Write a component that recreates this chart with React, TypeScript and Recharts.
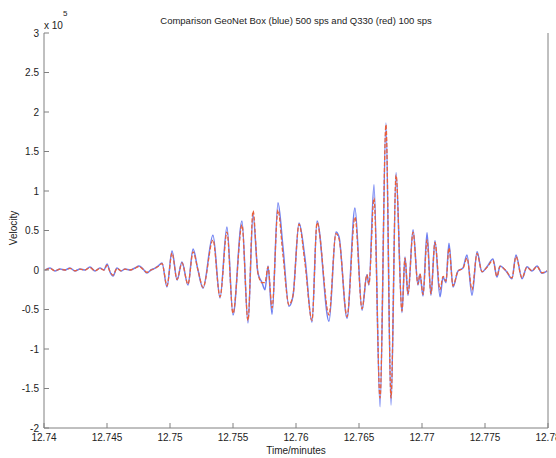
import React from 'react'
import { LineChart, Line, XAxis, YAxis } from 'recharts'

// time in minutes, velocity in units of 1e5
const times = [
  12.7401, 12.74048, 12.74087, 12.74127, 12.74167, 12.74206, 12.74246, 12.74286, 12.74325, 12.74365,
  12.74405, 12.74444, 12.74476, 12.745, 12.74524, 12.74548, 12.74579, 12.74611, 12.74643, 12.74683,
  12.74722, 12.74754, 12.74786, 12.74817, 12.74849, 12.74881, 12.74905, 12.74937, 12.74976, 12.75016,
  12.75056, 12.75095, 12.75143, 12.75183, 12.75222, 12.75262, 12.75341, 12.75397, 12.75452, 12.755,
  12.75571, 12.75619, 12.75659, 12.75698, 12.7573, 12.75754, 12.75778, 12.7581, 12.75857, 12.75897,
  12.75944, 12.75976, 12.76024, 12.76071, 12.76127, 12.76167, 12.76262, 12.76317, 12.76341, 12.76405,
  12.76468, 12.76524, 12.76563, 12.76579, 12.76619, 12.76667, 12.76714, 12.76754, 12.76794, 12.76841,
  12.76865, 12.76889, 12.76929, 12.76968, 12.76984, 12.77008, 12.7704, 12.77071, 12.77103, 12.77143,
  12.77167, 12.7719, 12.77214, 12.77246, 12.77286, 12.77325, 12.77357, 12.77397, 12.77437, 12.77476,
  12.77516, 12.77563, 12.77595, 12.77619, 12.77667, 12.77714, 12.77746, 12.77794, 12.77833, 12.77873,
  12.77913, 12.77952, 12.77992,
]

const geoNetBox = [
  0, 0.025, -0.013, 0.013, 0, 0.025, -0.013, 0.013, 0, 0.038,
  -0.013, 0.025, 0, 0.076, -0.025, -0.076, 0.025, -0.013, 0.013, 0,
  0.025, 0.05, 0.013, -0.038, 0, 0.025, 0.05, 0.09, -0.215, 0.24,
  -0.127, 0.1, -0.19, 0.266, 0, -0.23, 0.44, -0.354, 0.544, -0.57,
  0.62, -0.67, 0.7, -0.04, -0.16, -0.25, 0.05, -0.56, 0.85, 0.28,
  -0.46, -0.33, 0.595, 0.15, -0.66, 0.62, -0.65, 0.48, 0.42, -0.61,
  0.785, -0.51, -0.06, -0.19, 1.08, -1.73, 1.86, -1.71, 1.23, -0.54,
  0.165, -0.32, 0.51, -0.19, -0.05, -0.33, 0.47, -0.32, 0.37, -0.34,
  -0.09, -0.16, 0.34, -0.215, -0.013, 0.025, 0.19, -0.32, 0.23, -0.025,
  0.04, 0.14, -0.09, 0.05, -0.013, -0.11, 0.19, -0.11, 0.04, -0.013,
  0.05, -0.04, -0.013,
]

const q330 = [
  0, 0.02, -0.01, 0.01, 0, 0.02, -0.01, 0.01, 0, 0.03,
  -0.01, 0.02, 0, 0.06, -0.02, -0.065, 0.02, -0.01, 0.01, 0,
  0.02, 0.045, 0.01, -0.03, 0, 0.02, 0.045, 0.08, -0.2, 0.215,
  -0.12, 0.09, -0.18, 0.23, 0, -0.22, 0.38, -0.34, 0.48, -0.55,
  0.57, -0.64, 0.75, -0.04, -0.16, -0.16, 0.04, -0.48, 0.76, 0.18,
  -0.44, -0.32, 0.58, 0.09, -0.64, 0.6, -0.57, 0.46, 0.4, -0.59,
  0.67, -0.49, -0.06, -0.18, 0.91, -1.62, 1.84, -1.62, 1.2, -0.52,
  0.15, -0.3, 0.48, -0.18, -0.05, -0.31, 0.38, -0.3, 0.35, -0.25,
  -0.08, -0.14, 0.28, -0.2, -0.013, 0.02, 0.15, -0.25, 0.21, -0.02,
  0.035, 0.12, -0.08, 0.045, -0.01, -0.1, 0.17, -0.1, 0.035, -0.01,
  0.045, -0.035, -0.01,
]

const xTicks = [12.74, 12.745, 12.75, 12.755, 12.76, 12.765, 12.77, 12.775, 12.78]
const yTicks = [-2, -1.5, -1, -0.5, 0, 0.5, 1, 1.5, 2, 2.5, 3]

const data = times.map((t, i) => ({ t, blue: geoNetBox[i], red: q330[i] }))

const font = '"Liberation Sans", Arial, sans-serif'
const boxColor = '#808080'
const tickStyle = { fontSize: 10, fill: '#222', fontFamily: font }

export default function App() {
  return (
    <div style={{ position: 'absolute', left: 0, top: 0, width: 556, height: 458, background: '#fff', fontFamily: font, color: '#222' }}>
      <LineChart width={556} height={458} data={data} margin={{ top: 33, right: 0, bottom: 0, left: 0 }}>
        <XAxis
          dataKey="t"
          type="number"
          domain={[12.74, 12.78]}
          ticks={xTicks}
          allowDataOverflow
          height={30}
          tickSize={-5}
          tickMargin={11}
          stroke={boxColor}
          tick={tickStyle}
          interval={0}
        />
        <XAxis
          xAxisId="top"
          orientation="top"
          dataKey="t"
          type="number"
          domain={[12.74, 12.78]}
          ticks={xTicks}
          height={0}
          tickSize={-5}
          tick={false}
          stroke={boxColor}
        />
        <YAxis
          domain={[-2, 3]}
          ticks={yTicks}
          width={44}
          tickSize={-5}
          tickMargin={10}
          stroke={boxColor}
          tick={tickStyle}
          interval={0}
        />
        <YAxis
          yAxisId="right"
          orientation="right"
          domain={[-2, 3]}
          ticks={yTicks}
          width={8}
          tickSize={-5}
          tick={false}
          stroke={boxColor}
        />
        <Line
          dataKey="blue"
          type="monotone"
          stroke="#6f80f2"
          strokeWidth={1.5}
          dot={false}
          isAnimationActive={false}
        />
        <Line
          dataKey="red"
          type="monotone"
          stroke="#e8603c"
          strokeWidth={1.3}
          strokeDasharray="4 2"
          dot={false}
          isAnimationActive={false}
        />
      </LineChart>
      <div style={{ position: 'absolute', left: 0, width: 592, top: 15, textAlign: 'center', fontSize: 9.5 }}>
        Comparison GeoNet Box (blue) 500 sps and Q330 (red) 100 sps
      </div>
      <div style={{ position: 'absolute', left: 44, top: 20, fontSize: 10 }}>x 10</div>
      <div style={{ position: 'absolute', left: 63, top: 9, fontSize: 8 }}>5</div>
      <div style={{ position: 'absolute', left: 0, width: 592, top: 445, textAlign: 'center', fontSize: 10 }}>Time/minutes</div>
      <div style={{ position: 'absolute', left: 13, top: 228, fontSize: 10, transform: 'translate(-50%, -50%) rotate(-90deg)', whiteSpace: 'nowrap' }}>
        Velocity
      </div>
    </div>
  )
}
